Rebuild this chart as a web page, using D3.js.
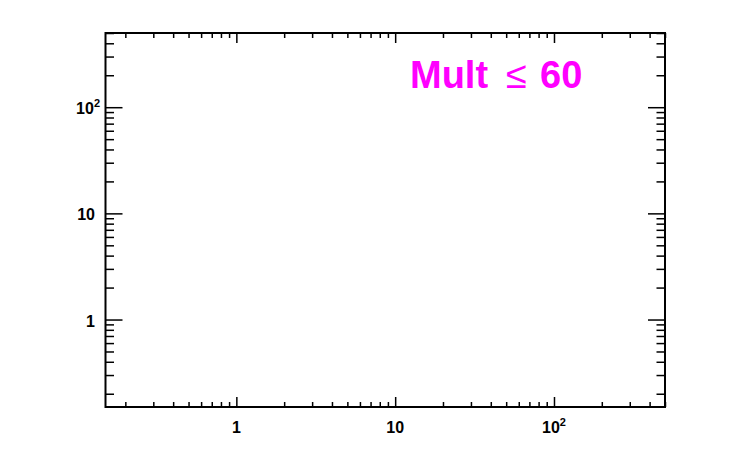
<!DOCTYPE html>
<html>
<head>
<meta charset="utf-8">
<script src="https://cdn.jsdelivr.net/npm/d3@7"></script>
<style>
html,body{margin:0;padding:0;background:#fff;}
svg{display:block;}
</style>
</head>
<body>
<svg id="chart" width="731" height="468"></svg>
<script>
// ---- data ----
const xDomain = [0.15, 500];
const yDomain = [0.15, 500];
const xMajorTicks = [1, 10, 100];
const yMajorTicks = [1, 10, 100];
const xTickLabels = [["1", ""], ["10", ""], ["10", "2"]];
const yTickLabels = [["1", ""], ["10", ""], ["10", "2"]];
const titleParts = ["Mult", "\u2264", "60"];
const titleColor = "#ff00ff";

// ---- layout ----
const plotL = 105.5, plotR = 665, plotT = 33, plotB = 407;

const svg = d3.select("#chart");
const x = d3.scaleLog().domain(xDomain).range([plotL, plotR]);
const y = d3.scaleLog().domain(yDomain).range([plotB, plotT]);

function minorTicks(domain){
  const out = [];
  for (let e = -2; e <= 3; e++){
    for (let m = 2; m <= 9; m++){
      const v = m * Math.pow(10, e);
      if (v >= domain[0] && v <= domain[1]) out.push(v);
    }
  }
  return out;
}
const xMinor = minorTicks(xDomain);
const yMinor = minorTicks(yDomain);

const xMajLen = 10, xMinLen = 5, yMajLen = 17, yMinLen = 8.5;

function styleAxis(g, w){
  g.select(".domain").remove();
  g.selectAll(".tick line").attr("stroke", "#000").attr("stroke-width", w);
  g.selectAll(".tick text").remove();
}

// bottom
svg.append("g").attr("transform", `translate(0,${plotB})`)
  .call(d3.axisBottom(x).tickValues(xMajorTicks).tickSize(-xMajLen).tickFormat(""))
  .call(g => styleAxis(g, 1.5));
svg.append("g").attr("transform", `translate(0,${plotB})`)
  .call(d3.axisBottom(x).tickValues(xMinor).tickSize(-xMinLen).tickFormat(""))
  .call(g => styleAxis(g, 1.5));
// top
svg.append("g").attr("transform", `translate(0,${plotT})`)
  .call(d3.axisTop(x).tickValues(xMajorTicks).tickSize(-xMajLen).tickFormat(""))
  .call(g => styleAxis(g, 1.5));
svg.append("g").attr("transform", `translate(0,${plotT})`)
  .call(d3.axisTop(x).tickValues(xMinor).tickSize(-xMinLen).tickFormat(""))
  .call(g => styleAxis(g, 1.5));
// left
svg.append("g").attr("transform", `translate(${plotL},0)`)
  .call(d3.axisLeft(y).tickValues(yMajorTicks).tickSize(-yMajLen).tickFormat(""))
  .call(g => styleAxis(g, 1.5));
svg.append("g").attr("transform", `translate(${plotL},0)`)
  .call(d3.axisLeft(y).tickValues(yMinor).tickSize(-yMinLen).tickFormat(""))
  .call(g => styleAxis(g, 1.5));
// right
svg.append("g").attr("transform", `translate(${plotR},0)`)
  .call(d3.axisRight(y).tickValues(yMajorTicks).tickSize(-yMajLen).tickFormat(""))
  .call(g => styleAxis(g, 1.5));
svg.append("g").attr("transform", `translate(${plotR},0)`)
  .call(d3.axisRight(y).tickValues(yMinor).tickSize(-yMinLen).tickFormat(""))
  .call(g => styleAxis(g, 1.5));

// frame
svg.append("rect")
  .attr("x", plotL).attr("y", plotT)
  .attr("width", plotR - plotL).attr("height", plotB - plotT)
  .attr("fill", "none").attr("stroke", "#000").attr("stroke-width", 2);

const font = "'Liberation Sans', Arial, Helvetica, sans-serif";

// x tick labels
xMajorTicks.forEach((v, i) => {
  const [base, sup] = xTickLabels[i];
  const t = svg.append("text")
    .attr("x", x(v)).attr("y", 433)
    .attr("text-anchor", "middle")
    .attr("font-family", font).attr("font-weight", "bold").attr("font-size", 16)
    .attr("fill", "#000");
  t.append("tspan").text(base);
  if (sup) t.append("tspan").attr("dy", -7).attr("font-size", 11).text(sup);
});

// y tick labels
yMajorTicks.forEach((v, i) => {
  const [base, sup] = yTickLabels[i];
  const t = svg.append("text")
    .attr("x", sup ? 100 : 95).attr("y", y(v) + 7)
    .attr("text-anchor", "end")
    .attr("font-family", font).attr("font-weight", "bold").attr("font-size", 16)
    .attr("fill", "#000");
  t.append("tspan").text(base);
  if (sup) t.append("tspan").attr("dy", -7).attr("font-size", 11).text(sup);
});

// title
const title = svg.append("text")
  .attr("y", 88)
  .attr("font-family", font).attr("font-size", 38)
  .attr("fill", titleColor);
title.append("tspan").attr("x", 410).attr("font-weight", "bold").text(titleParts[0]);
title.append("tspan").attr("x", 506).attr("font-weight", "normal").text(titleParts[1]);
title.append("tspan").attr("x", 540).attr("font-weight", "bold").text(titleParts[2]);
</script>
</body>
</html>
